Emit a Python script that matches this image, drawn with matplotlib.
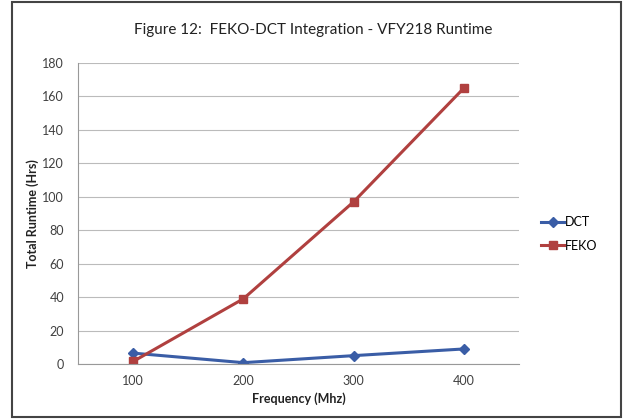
import matplotlib
matplotlib.use("Agg")
from matplotlib import pyplot as plt
from matplotlib.patches import Rectangle

plt.rcParams['font.family'] = ['Lato', 'DejaVu Sans']

freqs = ["100", "200", "300", "400"]
dct = [6.5, 0.8, 5, 9]
feko = [1.5, 39, 97, 165]

fig = plt.figure(figsize=(6.27, 4.19), dpi=100)
ax = fig.add_axes([78/627, 1 - 364/419, 441/627, 301/419])

x = range(1, len(freqs) + 1)
ax.plot(x, dct, color="#3A5DA6", lw=2.2, marker="D", ms=5, label="DCT")
ax.plot(x, feko, color="#B0403F", lw=2.2, marker="s", ms=6, label="FEKO")

ax.set_xlim(0.5, 4.5)
ax.set_ylim(0, 180)
ax.set_yticks(range(0, 181, 20))
ax.set_xticks(list(x))
ax.set_xticklabels(freqs)
ax.tick_params(length=0, labelsize=9, colors="#404040", pad=10)
ax.tick_params(axis="x", pad=8)
ax.yaxis.grid(True, color="#BBBBBB", lw=0.8)
ax.set_axisbelow(True)
for s in ["top", "right"]:
    ax.spines[s].set_visible(False)
ax.spines["bottom"].set_color("#999999")
ax.spines["left"].set_color("#999999")
ax.spines["left"].set_linewidth(0.8)

ax.set_xlabel("Frequency (Mhz)", fontsize=9, fontweight="bold", color="#222222", labelpad=4)
ax.set_ylabel("Total Runtime (Hrs)", fontsize=9, fontweight="bold", color="#222222", labelpad=2)

fig.text(0.5, 1 - 30/419, "Figure 12:  FEKO-DCT Integration - VFY218 Runtime",
         ha="center", va="center", fontsize=11, color="#222222")

leg = fig.legend(loc="center left", bbox_to_anchor=(530/627, 1 - 234/419), frameon=False,
                 fontsize=9, handlelength=1.8, handletextpad=0.1, labelspacing=0.9)

fig.patches.append(Rectangle((12/627, 2/419), 609/627, 415/419, transform=fig.transFigure,
                             fill=False, ec="#444444", lw=1.5))

fig.savefig("out.png", dpi=100)
